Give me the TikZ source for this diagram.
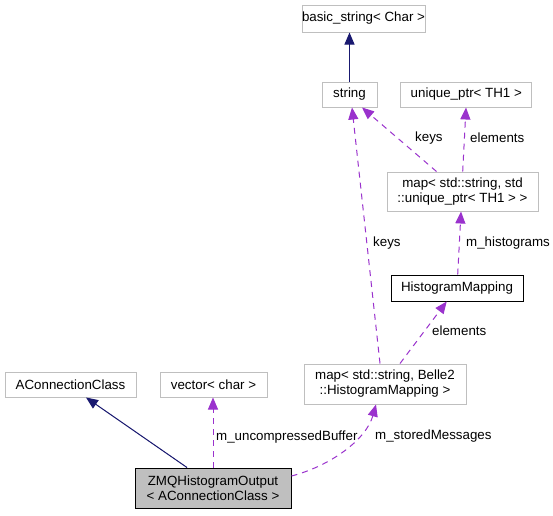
\documentclass[tikz,border=0pt]{standalone}
\usepackage{fontspec}
\setmainfont{Liberation Sans}
\usetikzlibrary{arrows.meta}
\definecolor{navyedge}{HTML}{191970}
\definecolor{purpedge}{HTML}{9A32CD}
\definecolor{boxgray}{HTML}{BFBFBF}
\begin{document}
\begin{tikzpicture}[x=1pt,y=-1pt,
  every node/.style={font=\fontsize{13.33}{15}\selectfont},
  cls/.style={draw=boxgray,line width=1pt,rectangle,inner sep=0pt,align=center,fill=white},
  clsblack/.style={cls,draw=black},
  clsmain/.style={cls,draw=black,fill=boxgray},
  inherit/.style={draw=navyedge,line width=1pt,-{Triangle[length=12pt,width=10pt]},fill=navyedge},
  usage/.style={draw=purpedge,line width=1pt,dash pattern=on 6pt off 5pt,-{Triangle[length=12pt,width=10pt]}},
  elabel/.style={anchor=west,inner sep=0pt}]
\useasboundingbox (0,0) rectangle (553,515);
\fill[white] (0,0) rectangle (553,515);

\node[cls,minimum width=117pt,minimum height=27pt] (basic) at (363.5,18.5) {basic\_string< Char >};
\node[cls,minimum width=55pt,minimum height=25pt] (str) at (349.5,94.5) {string};
\node[cls,minimum width=131pt,minimum height=25pt] (uptr) at (466.3,94.5) {unique\_ptr< TH1 >};
\node[cls,minimum width=151pt,minimum height=39pt] (mapu) at (462.5,191.5) {map< std::string, std\\::unique\_ptr< TH1 > >};
\node[clsblack,minimum width=132pt,minimum height=26pt] (hm) at (457,288) {HistogramMapping};
\node[cls,minimum width=162pt,minimum height=40pt] (mapb) at (385,384) {map< std::string, Belle2\\::HistogramMapping >};
\node[cls,minimum width=131pt,minimum height=25pt] (acc) at (70.5,384.5) {AConnectionClass};
\node[cls,minimum width=107pt,minimum height=25pt] (vec) at (213.5,384.5) {vector< char >};
\node[clsmain,minimum width=156pt,minimum height=40pt] (zmq) at (213,488) {ZMQHistogramOutput\\< AConnectionClass >};

% inheritance
\draw[inherit] (str.north) -- (str.north |- basic.south);
\draw[inherit] ([xshift=-26pt]zmq.north) -- ([xshift=15.5pt]acc.south);

% usage
\draw[usage] (zmq.north) -- (zmq.north |- vec.south);
\node[elabel] (l1) at (216,437) {m\_uncompressedBuffer};

\draw[usage] ([yshift=12pt]zmq.east) .. controls (330,466) and (366,440) .. ([xshift=-9pt]mapb.south);
\node[elabel] (l2) at (375,436) {m\_storedMessages};

\draw[usage] ([xshift=-5pt]mapb.north) -- ([xshift=2.5pt]str.south);
\node[elabel] (l3) at (373,243) {keys};

\draw[usage] ([xshift=15pt]mapb.north) -- ([xshift=-10.3pt]hm.south);
\node[elabel] (l4) at (432,331) {elements};

\draw[usage] ([xshift=0.7pt]hm.north) -- ([xshift=-1.5pt]mapu.south);
\node[elabel] (l5) at (466,243) {m\_histograms};

\draw[usage] ([xshift=-26pt]mapu.north) -- ([xshift=12.5pt]str.south);
\node[elabel] (l6) at (415,138) {keys};

\draw[usage] ([xshift=0.2pt]mapu.north) -- ([xshift=-0.3pt]uptr.south);
\node[elabel] (l7) at (470,138) {elements};
\end{tikzpicture}
\end{document}
